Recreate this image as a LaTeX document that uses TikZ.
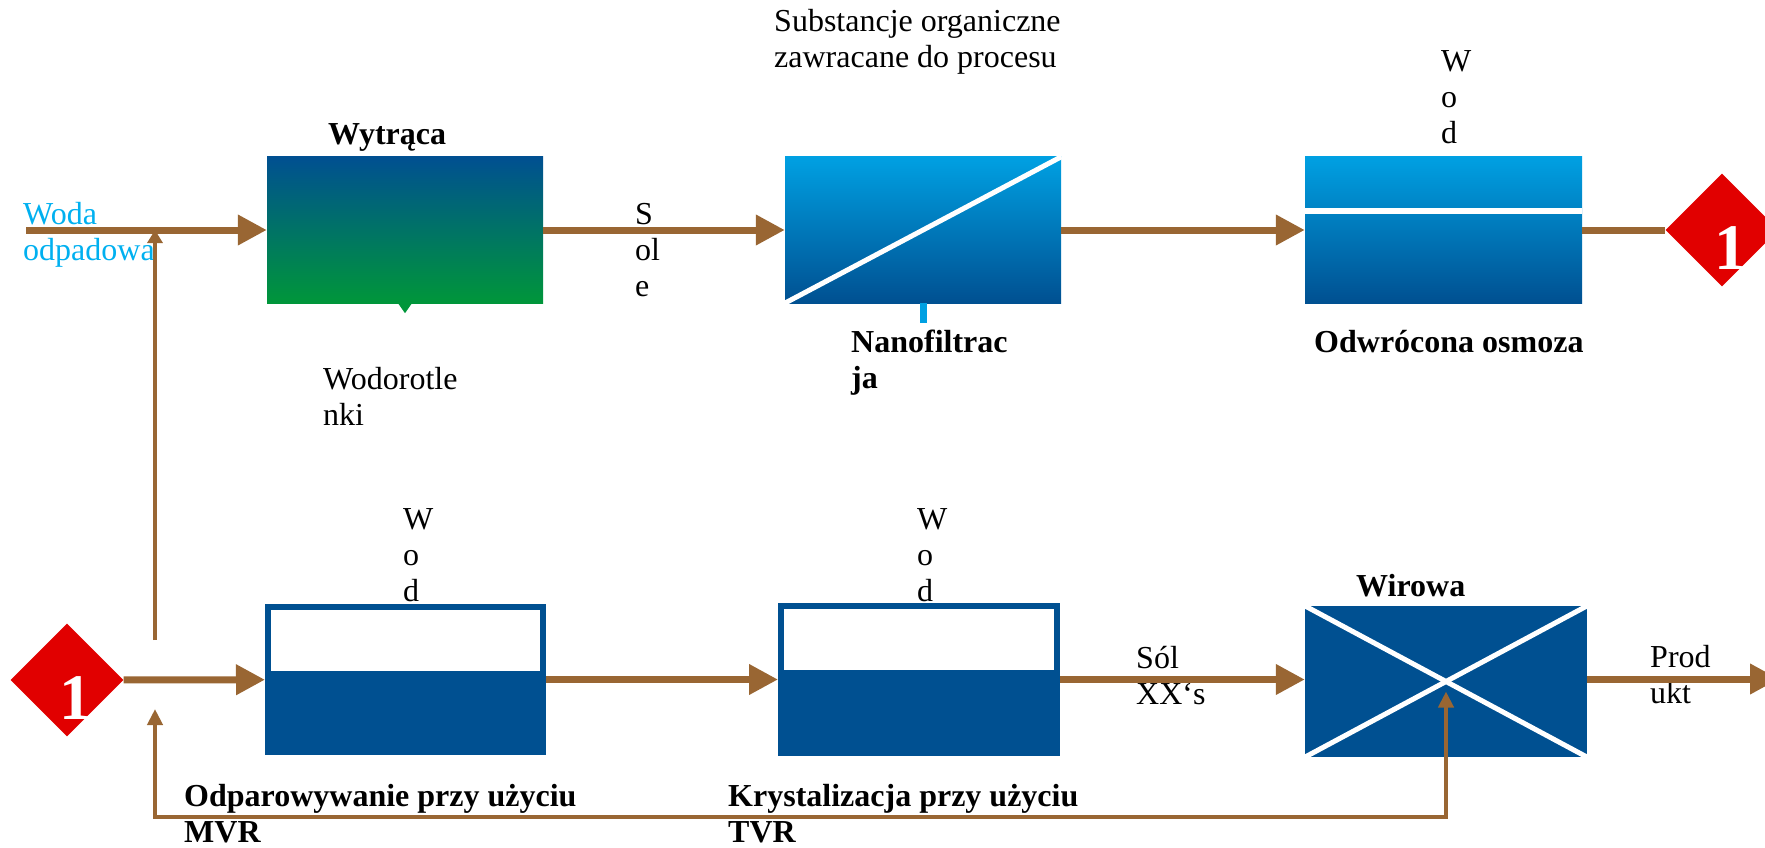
\documentclass[tikz,border=0pt]{standalone}
\usepackage{fontspec}
\setmainfont{Liberation Serif}
\usepackage{tikz}
\usetikzlibrary{shapes.geometric, arrows.meta}
\definecolor{flowbrown}{RGB}{153,102,51}
\definecolor{dkblue}{RGB}{0,80,145}
\definecolor{ltblue}{RGB}{0,160,226}
\definecolor{dkgreen}{RGB}{0,150,58}
\definecolor{markred}{RGB}{225,0,0}
\definecolor{inblue}{RGB}{0,176,240}
\tikzstyle{procbox} = [rectangle, inner sep=0pt,
minimum width=276pt,
minimum height=146pt]
\tikzstyle{gradbox} = [procbox, top color=ltblue, bottom color=dkblue]
\tikzstyle{evapbox} = [procbox, minimum width=275pt, minimum height=145pt,
fill=dkblue, draw=dkblue, line width=6pt]
\tikzstyle{marker} = [diamond, inner sep=0pt,
minimum width=113pt,
minimum height=113pt,
fill=markred]
\tikzstyle{digit} = [font=\fontsize{65}{65}\selectfont\bfseries, text=white, inner sep=0pt, anchor=base]
\tikzstyle{txt} = [font=\fontsize{32}{36}\selectfont, inner sep=0pt, anchor=base west, align=left]
\tikzstyle{lbl} = [txt, font=\fontsize{32}{36}\selectfont\bfseries]
\tikzstyle{flowline} = [draw=flowbrown, line width=7pt, -{Triangle[length=29pt,width=29pt]}]
\tikzstyle{fbline} = [draw=flowbrown, line width=4.5pt]
\tikzstyle{whiteline} = [draw=white, line width=5pt]

\begin{document}
\begin{tikzpicture}[x=1pt, y=-1pt]
		\clip (0,0) rectangle (1765,848);
		% process units
		\node (wytr) [procbox, top color=dkblue, bottom color=dkgreen] at (405,230) {};
		\node (nano) [gradbox] at (923,230) {};
		\node (ro) [gradbox, minimum width=277pt] at (1443.5,230) {};
		\node (d1r) [marker] at (1722,230) {};
		\node (d1l) [marker] at (67,680) {};
		\node (mvr) [evapbox] at (405.5,679.5) {};
		\node (tvr) [evapbox, minimum width=276pt, minimum height=147pt] at (919,679.5) {};
		\node (wir) [procbox, fill=dkblue, minimum width=282pt, minimum height=151pt] at (1446,681.5) {};
		
		% details inside the units
		\fill[dkgreen] ([xshift=-7pt]wytr.south) -- ([xshift=7pt]wytr.south) -- ([yshift=-10pt]wytr.south) -- cycle;
		\draw[whiteline] (nano.south west) -- (nano.north east);
		\draw[ltblue, line width=7pt] (nano.south) -- ++(0,20);
		\fill[white] ([yshift=-51pt]ro.north west) rectangle ([yshift=-57pt]ro.north east);
		\fill[white] ([xshift=6pt,yshift=-6pt]mvr.north west) rectangle ([xshift=-6pt,yshift=-67pt]mvr.north east);
		\fill[white] ([xshift=6pt,yshift=-6pt]tvr.north west) rectangle ([xshift=-6pt,yshift=-67pt]tvr.north east);
		\draw[whiteline] (wir.north west) -- (wir.south east);
		\draw[whiteline] (wir.south west) -- (wir.north east);
		\node (d1rnum) [digit] at ([xshift=9pt,yshift=-39pt]d1r.center) {1};
		\node (d1lnum) [digit] at ([xshift=9pt,yshift=-39pt]d1l.center) {1};
		
		% labels (anchored at the baseline of the last line)
		\node (org) [txt] at (774,68) {Substancje organiczne\\zawracane do procesu};
		\node (wytrlbl) [lbl] at (328,145) {Wytrąca};
		\node (feedlbl) [txt, text=inblue] at (23,260) {Woda\\odpadowa};
		\node (sole) [txt] at (635,296) {S\\ol\\e};
		\node (hydr) [txt] at (323,425) {Wodorotle\\nki};
		\node (nanolbl) [lbl] at (851,388) {Nanofiltrac\\ja};
		\node (rowat) [txt] at (1441,144) {W\\o\\d};
		\node (rolbl) [lbl] at (1314,352) {Odwrócona osmoza};
		\node (mvrwat) [txt] at (403,601) {W\\o\\d};
		\node (tvrwat) [txt] at (917,601) {W\\o\\d};
		\node (mvrlbl) [lbl] at (184,842) {Odparowywanie przy użyciu\\MVR};
		\node (tvrlbl) [lbl] at (728,842) {Krystalizacja przy użyciu\\TVR};
		\node (salt) [txt] at (1136,704) {Sól\\XX‘s};
		\node (wirlbl) [lbl] at (1356,596) {Wirowa};
		\node (prodlbl) [txt] at (1650,703) {Prod\\ukt};
		
		% streams
		\coordinate (feed) at (26,230);
		\coordinate (prod) at (1779,679);
		\coordinate (ret1) at (155,640);
		\coordinate (ret2) at (155,709);
		\draw [flowline](feed) -- (wytr.west);
		\draw [flowline](wytr) -- (nano);
		\draw [flowline](nano) -- (ro);
		\draw [flowline, -](ro) -- (d1r);
		\draw [flowline](d1l) -- (mvr);
		\draw [flowline](mvr) -- (tvr);
		\draw [flowline](tvr.east) -- (tvr.east -| wir.west);
		\draw [flowline](wir.east |- prod) -- (prod);
		\draw [fbline, -{Triangle[length=13pt,width=15pt]}](ret1) -- (ret1 |- feed);
		\draw [fbline, {Triangle[length=16pt,width=15pt]}-{Triangle[length=16pt,width=15pt]}](ret2) -- (155,817) -| ([yshift=-10pt]wir.center);
	\end{tikzpicture}
\end{document}
